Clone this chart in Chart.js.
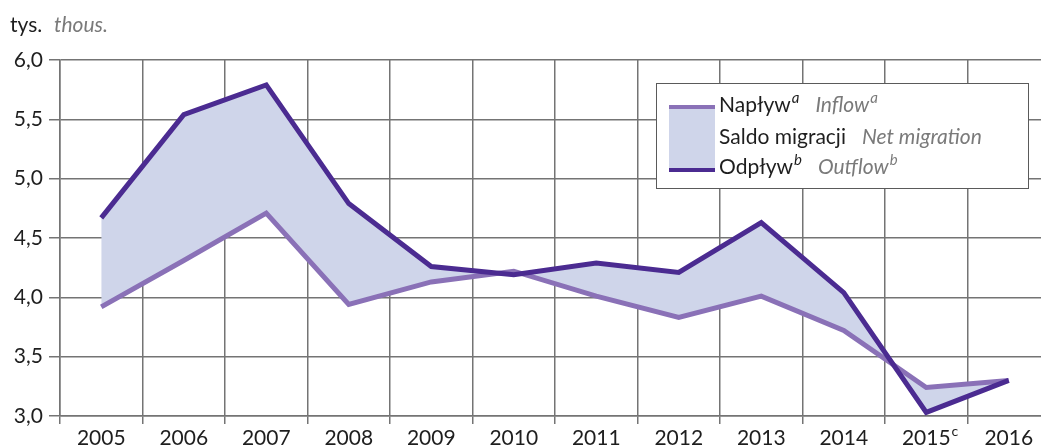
<!DOCTYPE html>
<html>
<head>
<meta charset="utf-8">
<script src="https://cdn.jsdelivr.net/npm/chart.js@4"></script>
<style>
html,body{margin:0;padding:0;background:#fff;overflow:hidden;width:1041px;height:448px;}
canvas{display:block;}
</style>
</head>
<body>
<canvas id="c" width="1050" height="448"></canvas>
<script>
// ---- data ----
const years = ['2005','2006','2007','2008','2009','2010','2011','2012','2013','2014','2015','2016'];
const yearNotes = ['','','','','','','','','','','c',''];
const inflow  = [3.92, 4.31, 4.71, 3.94, 4.13, 4.22, 4.01, 3.83, 4.01, 3.72, 3.24, 3.30];
const outflow = [4.67, 5.54, 5.79, 4.79, 4.26, 4.19, 4.29, 4.21, 4.63, 4.04, 3.03, 3.30];
const yTickLabels = ['3,0','3,5','4,0','4,5','5,0','5,5','6,0'];
const unitPl = 'tys.';
const unitEn = 'thous.';
const legendPl = ['Napływ','Saldo migracji','Odpływ'];
const legendEn = ['Inflow','Net migration','Outflow'];
const legendSup = ['a','','b'];

// ---- styles ----
const FONT = 'Lato';
const C_IN = '#8a71b7';
const C_OUT = '#4b2b91';
const C_FILL = '#cfd5ea';
const C_GRID = '#747474';
const C_TEXT = '#1e1e1e';
const C_EN = '#7a7a7a';

const extras = {
  id: 'extras',
  afterDraw(chart) {
    const ctx = chart.ctx;
    ctx.save();
    // unit label
    ctx.textBaseline = 'alphabetic';
    ctx.textAlign = 'left';
    ctx.font = `21px ${FONT}`;
    ctx.fillStyle = C_TEXT;
    ctx.fillText(unitPl, 10, 32);
    ctx.font = `italic 21px ${FONT}`;
    ctx.fillStyle = C_EN;
    ctx.fillText(unitEn, 54, 32);

    // x superscripts
    const xs = chart.scales.x;
    ctx.font = `21px ${FONT}`;
    yearNotes.forEach((n, i) => {
      if (!n) return;
      const w = ctx.measureText(years[i]).width;
      const x = xs.getPixelForValue(i) + w / 2 + 1;
      ctx.save();
      ctx.font = `14px ${FONT}`;
      ctx.fillStyle = C_TEXT;
      ctx.fillText(n, x, 436);
      ctx.restore();
    });

    // legend box
    ctx.fillStyle = '#fff';
    ctx.fillRect(656, 83, 372, 105);
    ctx.strokeStyle = '#5a5a5a';
    ctx.lineWidth = 1;
    ctx.strokeRect(656.5, 83.5, 372, 105);
    // swatch
    ctx.fillStyle = C_FILL;
    ctx.fillRect(669, 106, 46, 65);
    ctx.fillStyle = C_IN;
    ctx.fillRect(669, 105, 46, 4);
    ctx.fillStyle = C_OUT;
    ctx.fillRect(669, 168, 46, 4);
    // texts
    const baselines = [112, 144, 174];
    legendPl.forEach((t, i) => {
      let x = 719;
      const y = baselines[i];
      ctx.font = `21px ${FONT}`;
      ctx.fillStyle = C_TEXT;
      ctx.fillText(t, x, y);
      x += ctx.measureText(t).width;
      if (legendSup[i]) {
        ctx.font = `italic 15px ${FONT}`;
        ctx.fillText(legendSup[i], x + 1, y - 9);
        x += ctx.measureText(legendSup[i]).width + 1;
      }
      x += 16;
      ctx.font = `italic 21px ${FONT}`;
      ctx.fillStyle = C_EN;
      ctx.fillText(legendEn[i], x, y);
      x += ctx.measureText(legendEn[i]).width;
      if (legendSup[i]) {
        ctx.font = `italic 15px ${FONT}`;
        ctx.fillText(legendSup[i], x + 1, y - 9);
      }
    });
    ctx.restore();
  }
};

new Chart(document.getElementById('c'), {
  type: 'line',
  data: {
    labels: years,
    datasets: [
      {
        label: 'Odpływ',
        data: outflow,
        borderColor: C_OUT,
        borderWidth: 5,
        backgroundColor: C_FILL,
        fill: '+1',
        pointRadius: 0,
        tension: 0,
        borderJoinStyle: 'miter'
      },
      {
        label: 'Napływ',
        data: inflow,
        borderColor: C_IN,
        borderWidth: 5,
        fill: false,
        pointRadius: 0,
        tension: 0,
        borderJoinStyle: 'miter'
      }
    ]
  },
  options: {
    responsive: false,
    animation: false,
    devicePixelRatio: 1,
    layout: { padding: { top: 60, left: 0, right: 0, bottom: 0 } },
    plugins: {
      legend: { display: false },
      tooltip: { enabled: false },
      filler: { drawTime: 'beforeDatasetsDraw' }
    },
    scales: {
      x: {
        offset: true,
        grid: { offset: true, color: C_GRID, lineWidth: 1.5, tickLength: 8 },
        border: { color: C_GRID, width: 1.5 },
        ticks: { color: C_TEXT, font: { family: FONT, size: 21 }, padding: 2, maxRotation: 0, autoSkip: false },
        afterFit(s) { s.height = 32; }
      },
      y: {
        min: 3, max: 6,
        grid: { color: C_GRID, lineWidth: 1.5, tickLength: 11 },
        border: { color: C_GRID, width: 1.5 },
        ticks: {
          stepSize: 0.5,
          color: C_TEXT,
          font: { family: FONT, size: 21 },
          padding: 6,
          callback: (v, i) => yTickLabels[i]
        },
        afterFit(s) { s.width = 60; }
      }
    }
  },
  plugins: [extras]
});
</script>
</body>
</html>
